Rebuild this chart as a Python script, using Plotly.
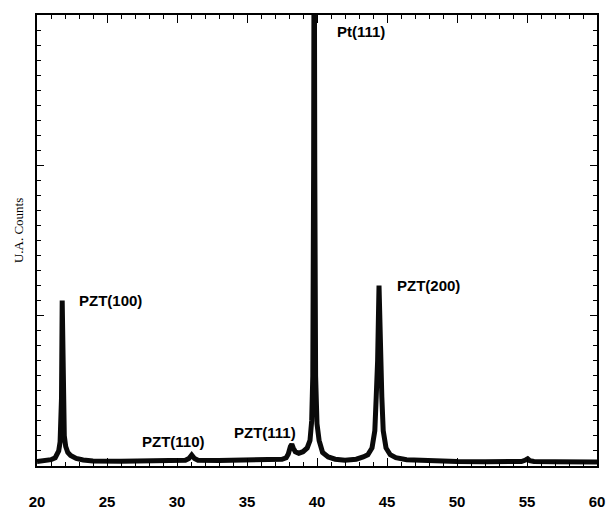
import plotly.graph_objects as go

# XRD scan of the PZT film on Pt: 2-theta (deg) vs. intensity (arbitrary units)
two_theta = [
    20.0, 20.5, 21.0, 21.3, 21.4, 21.55, 21.65, 21.7, 21.75, 21.8, 21.85, 21.9,
    21.95, 22.05, 22.2, 22.4, 22.8, 23.3, 24.0, 26.0, 28.0, 30.0, 30.6, 30.85,
    31.05, 31.25, 31.5, 33.0, 35.0, 36.5, 37.5, 37.8, 37.95, 38.1, 38.2, 38.3,
    38.45, 38.7, 39.0, 39.3, 39.5, 39.62, 39.7, 39.76, 39.8, 39.84, 39.9, 40.0,
    40.15, 40.4, 40.8, 41.3, 42.0, 42.8, 43.3, 43.63, 43.93, 44.13, 44.23,
    44.33, 44.43, 44.53, 44.63, 44.73, 44.93, 45.23, 45.63, 46.4, 48.0, 50.0,
    52.0, 54.6, 54.9, 55.05, 55.2, 55.5, 57.0, 60.0,
]
intensity = [
    0.30, 0.32, 0.42, 0.55, 0.70, 1.0, 1.6, 2.6, 4.5, 11.0, 5.5, 3.0,
    2.0, 1.3, 0.9, 0.7, 0.5, 0.4, 0.34, 0.32, 0.33, 0.35, 0.38, 0.5,
    0.73, 0.5, 0.38, 0.36, 0.38, 0.40, 0.45, 0.55, 0.8, 1.3, 1.45, 1.2,
    0.95, 0.85, 0.95, 1.2, 1.7, 3.0, 6.0, 20.0, 40.0, 20.0, 6.0, 2.8,
    1.7, 0.9, 0.6, 0.45, 0.38, 0.45, 0.6, 0.75, 1.2, 2.35, 4.6, 7.0,
    12.0, 7.0, 4.6, 2.35, 1.2, 0.75, 0.55, 0.42, 0.34, 0.30,
    0.28, 0.30, 0.40, 0.48, 0.36, 0.30, 0.28, 0.27,
]

# Reflection labels: text, left edge (2-theta), vertical centre (intensity)
peak_names = ["PZT(100)", "PZT(110)", "PZT(111)", "Pt(111)", "PZT(200)"]
label_x = [22.86, 27.36, 33.93, 41.29, 45.57]
label_y = [11.04, 1.66, 2.2, 28.9, 12.04]

x_ticks = [20, 25, 30, 35, 40, 45, 50, 55, 60]

fig = go.Figure()
fig.add_trace(go.Scatter(
    x=two_theta, y=intensity, mode="lines",
    line=dict(color="#0a0a0a", width=5),
    hoverinfo="skip", showlegend=False,
))

for name, lx, ly in zip(peak_names, label_x, label_y):
    fig.add_annotation(
        x=lx, y=ly, text=name, showarrow=False,
        xanchor="left", yanchor="middle",
        font=dict(family="Liberation Sans, Arial, sans-serif", size=15,
                  color="black", weight="bold"),
    )

fig.add_annotation(
    xref="paper", yref="paper", x=-0.034, y=0.523,
    text="U.A. Counts", showarrow=False, textangle=-90,
    xanchor="center", yanchor="middle",
    font=dict(family="Liberation Serif, Times New Roman, serif", size=13,
              color="black"),
)

fig.update_xaxes(
    range=[20, 60], tickvals=x_ticks, ticktext=[str(v) for v in x_ticks],
    ticks="inside", ticklen=8, tickwidth=1, tickcolor="black",
    minor=dict(dtick=1, ticks="inside", ticklen=4, tickcolor="black"),
    showline=True, linecolor="black", linewidth=1.5, mirror="ticks",
    showgrid=False, zeroline=False, ticklabelstandoff=21, automargin=False,
    tickfont=dict(family="Liberation Sans, Arial, sans-serif", size=15,
                  color="black", weight="bold"),
)
fig.update_yaxes(
    range=[0, 30], dtick=10, showticklabels=False, automargin=False,
    ticks="inside", ticklen=7, tickwidth=1, tickcolor="black",
    minor=dict(dtick=1, ticks="inside", ticklen=4, tickcolor="black"),
    showline=True, linecolor="black", linewidth=1.5, mirror="ticks",
    showgrid=False, zeroline=False,
)

fig.update_layout(
    width=609, height=510,
    margin=dict(l=37, r=12, t=15, b=44),
    paper_bgcolor="white", plot_bgcolor="white",
)

fig.write_html("out.html")
